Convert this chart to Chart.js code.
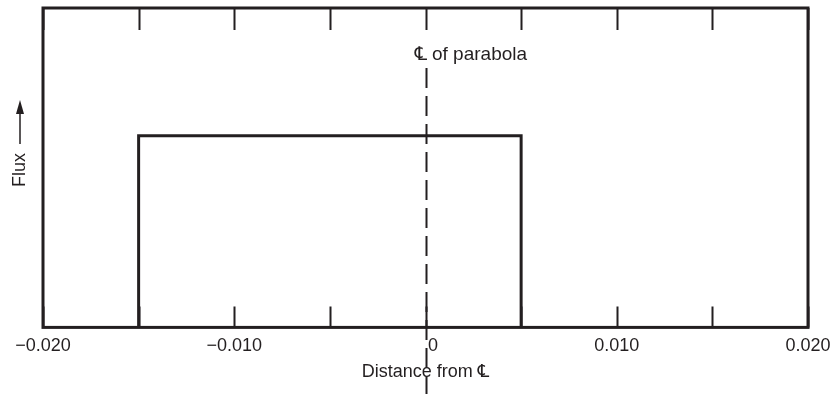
<!DOCTYPE html>
<html lang="en">
<head>
    <meta charset="UTF-8">
    <title>Flux vs distance from centre line</title>
    <style>
        html, body {
    margin: 0;
    padding: 0;
    background: #fff;
}

.chart-box {
    width: 831px;
    height: 394px;
}
    </style>
    <script src="https://cdn.jsdelivr.net/npm/chart.js"></script>
</head>
<body>
    <div class="chart-box">
        <canvas id="fluxChart" width="831" height="394"></canvas>
    </div>

    <script>
        // data
        const edgeX = [-0.015, -0.015, 0.005, 0.005];
        const fluxY = [0, 0.6, 0.6, 0];
        const tickValues = [-0.02, -0.015, -0.01, -0.005, 0, 0.005, 0.01, 0.015, 0.02];
        const labelValues = [-0.02, -0.01, 0, 0.01, 0.02];
        const tickLabels = ['\u22120.020', '\u22120.010', '   0', '0.010', '0.020'];
        const centreLine = 0;

        const ink = '#231f20';
        const font = "'Liberation Sans', 'DejaVu Sans', Arial, sans-serif";

        // frame, inward ticks, dashed centre line and the free labels
        const decorations = {
            id: 'decorations',
            afterDraw(chart) {
                const ctx = chart.ctx;
                const area = chart.chartArea;
                const x = chart.scales.x;

                ctx.save();
                ctx.strokeStyle = ink;
                ctx.lineWidth = 3;
                ctx.strokeRect(area.left, area.top, area.right - area.left, area.bottom - area.top);

                ctx.lineWidth = 2;
                tickValues.forEach(function (v) {
                    const px = Math.round(x.getPixelForValue(v)) + 0.5;
                    ctx.beginPath();
                    ctx.moveTo(px, area.top);
                    ctx.lineTo(px, area.top + 22);
                    ctx.moveTo(px, area.bottom);
                    ctx.lineTo(px, area.bottom - 21);
                    ctx.stroke();
                });

                // centre line of the parabola
                const cx = Math.round(x.getPixelForValue(centreLine)) + 0.5;
                ctx.lineWidth = 2;
                ctx.setLineDash([20, 8]);
                ctx.beginPath();
                ctx.moveTo(cx, 68);
                ctx.lineTo(cx, chart.height);
                ctx.stroke();
                ctx.setLineDash([]);

                ctx.fillStyle = ink;
                ctx.font = '19px ' + font;
                ctx.textBaseline = 'middle';
                ctx.textAlign = 'left';
                ctx.fillText('\u2104 of parabola', cx - 12, 55);

                // y axis label with arrow
                ctx.save();
                ctx.translate(20, 187);
                ctx.rotate(-Math.PI / 2);
                ctx.font = '18px ' + font;
                ctx.textAlign = 'left';
                ctx.fillText('Flux', 0, 0);
                ctx.lineWidth = 1.5;
                ctx.beginPath();
                ctx.moveTo(43, 0);
                ctx.lineTo(80, 0);
                ctx.stroke();
                ctx.beginPath();
                ctx.moveTo(87, 0);
                ctx.lineTo(73, -4);
                ctx.lineTo(73, 4);
                ctx.closePath();
                ctx.fill();
                ctx.restore();

                ctx.restore();
            }
        };

        const ctx = document.getElementById('fluxChart').getContext('2d');

        new Chart(ctx, {
            type: 'scatter',
            data: {
                datasets: [{
                    data: edgeX.map(function (v, i) { return { x: v, y: fluxY[i] }; }),
                    showLine: true,
                    borderColor: ink,
                    borderWidth: 3,
                    pointRadius: 0,
                    fill: false
                }]
            },
            options: {
                responsive: false,
                animation: false,
                layout: {
                    padding: { left: 43, right: 23, top: 8, bottom: 13 }
                },
                plugins: {
                    legend: { display: false },
                    tooltip: { enabled: false }
                },
                scales: {
                    x: {
                        type: 'linear',
                        min: -0.02,
                        max: 0.02,
                        afterBuildTicks: function (scale) {
                            scale.ticks = labelValues.map(function (v) { return { value: v }; });
                        },
                        afterFit: function (scale) {
                            // edge labels may overhang, the padding above handles it
                            scale.paddingLeft = 0;
                            scale.paddingRight = 0;
                        },
                        ticks: {
                            autoSkip: false,
                            maxRotation: 0,
                            padding: 8,
                            color: ink,
                            font: { family: font, size: 18 },
                            callback: function (value, index) {
                                return tickLabels[index];
                            }
                        },
                        grid: { display: false, drawTicks: false },
                        border: { display: false },
                        title: {
                            display: true,
                            text: 'Distance from \u2104',
                            color: ink,
                            font: { family: font, size: 18, lineHeight: 1 },
                            padding: { top: -2, bottom: 0 }
                        }
                    },
                    y: {
                        display: false,
                        min: 0,
                        max: 1
                    }
                }
            },
            plugins: [decorations]
        });
    </script>
</body>
</html>
